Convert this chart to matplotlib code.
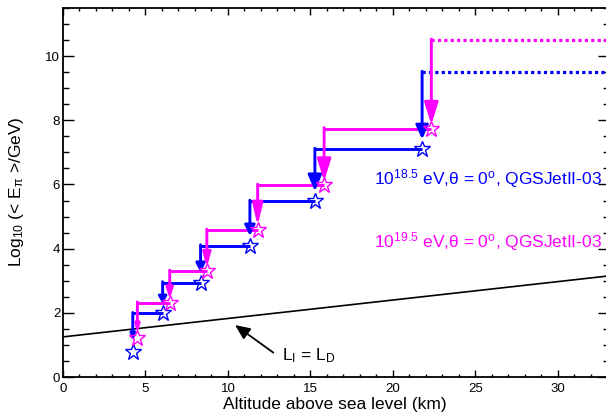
import numpy as np
import matplotlib
matplotlib.use("Agg")
import matplotlib.pyplot as plt
from matplotlib.ticker import MultipleLocator

plt.rcParams["font.family"] = ["Liberation Sans", "DejaVu Sans"]
plt.rcParams["mathtext.fontset"] = "custom"
plt.rcParams["mathtext.rm"] = "Liberation Sans"
plt.rcParams["mathtext.it"] = "Liberation Sans:italic"
plt.rcParams["mathtext.bf"] = "Liberation Sans:bold"

# ── data ─────────────────────────────────────────────────────────────────────
alt_185 = [4.23, 6.04, 8.34, 11.33, 15.27, 21.77]   # km
e_185   = [0.78, 1.98, 2.94, 4.09, 5.48, 7.10]      # log10(<E_pi>/GeV)
top_185 = 9.50

alt_195 = [4.51, 6.47, 8.72, 11.80, 15.83, 22.33]
e_195   = [1.22, 2.31, 3.30, 4.58, 5.98, 7.74]
top_195 = 10.50

lid_alt = [0.0, 35.0]        # L_I = L_D line
lid_val = [1.25, 3.26]

label_185 = r"10$^{18.5}$ eV,$\mathrm{θ}$ = 0$^{\mathrm{o}}$, QGSJetII-03"
label_195 = r"10$^{19.5}$ eV,$\mathrm{θ}$ = 0$^{\mathrm{o}}$, QGSJetII-03"

# ── styles ───────────────────────────────────────────────────────────────────
BLUE, MAG = "#0000ff", "#ff00ff"
XMAX, YMAX = 33.1, 11.5
# arrow head (full width px, length px) per step
HEAD_185 = [(5, 7), (8, 7), (9, 9), (10, 10), (13, 15), (12, 13)]
HEAD_195 = [(5, 8), (7, 10), (8, 13), (10, 20), (13, 20), (13, 20)]
TIP_OFF = {BLUE: 0.31, MAG: 0.12}
PX = 0.72  # px -> pt at dpi 100

fig = plt.figure(figsize=(6.06, 4.16), dpi=100)
ax = fig.add_axes([63 / 606, 39 / 416, 546 / 606, 369 / 416])


def draw_stairs(alt, e, top, color, heads):
    levels = list(e[1:]) + [top]
    n = len(alt)
    for i in range(n):
        # horizontal step
        if i < n - 1:
            ax.plot([alt[i], alt[i + 1]], [levels[i], levels[i]], color=color,
                    lw=2.1, solid_capstyle="butt", zorder=2)
        else:
            ax.plot([alt[i], XMAX + 1], [levels[i], levels[i]], color=color,
                    lw=2.3, ls=(0, (1, 1)), zorder=2)
        # vertical arrow down to the point
        w, l = heads[i]
        ax.annotate("", xy=(alt[i], e[i] + TIP_OFF[color]),
                    xytext=(alt[i], levels[i] + 0.03),
                    arrowprops=dict(arrowstyle=f"-|>,head_length={l * PX - 1:.2f},"
                                               f"head_width={w * PX / 2 - 0.5:.2f}",
                                    mutation_scale=1, color=color, lw=2.1,
                                    shrinkA=0, shrinkB=0),
                    zorder=3)
    ax.plot(alt, e, ls="none", marker="*", ms=12, mfc="none", mec=color,
            mew=1.0, zorder=4)


ax.plot(lid_alt, lid_val, color="black", lw=1.2, zorder=2)
draw_stairs(alt_185, e_185, top_185, BLUE, HEAD_185)
draw_stairs(alt_195, e_195, top_195, MAG, HEAD_195)

ax.annotate("", xy=(10.43, 1.62), xytext=(12.75, 0.76),
            arrowprops=dict(arrowstyle="-|>,head_length=9,head_width=4",
                            mutation_scale=1, color="black", lw=1.3,
                            shrinkA=0, shrinkB=0))
ax.text(13.25, 0.53, r"L$_{\mathrm{I}}$ = L$_{\mathrm{D}}$", fontsize=12.5,
        ha="left", va="baseline")

ax.text(32.69, 6.01, label_185, color=BLUE, fontsize=12.5, ha="right", va="baseline")
ax.text(32.69, 4.03, label_195, color=MAG, fontsize=12.5, ha="right", va="baseline")

ax.set_xlim(0, XMAX)
ax.set_ylim(0, YMAX)
ax.xaxis.set_major_locator(MultipleLocator(5))
ax.xaxis.set_minor_locator(MultipleLocator(1))
ax.yaxis.set_major_locator(MultipleLocator(2))
ax.yaxis.set_minor_locator(MultipleLocator(0.5))
ax.tick_params(which="both", direction="in", top=True, right=True, width=1.0,
               labelsize=9.5)
ax.xaxis.set_tick_params(which="major", length=5, pad=4)
ax.xaxis.set_tick_params(which="minor", length=2.5)
ax.yaxis.set_tick_params(which="major", length=8, pad=2)
ax.yaxis.set_tick_params(which="minor", length=4)
for s in ax.spines.values():
    s.set_linewidth(1.3)

fig.text(335 / 606, 1 - 405 / 416, "Altitude above sea level (km)", fontsize=12.5,
         ha="center", va="center")
fig.text(17 / 606, 1 - 191.5 / 416, r"Log$_{10}$ (< E$_{\mathrm{π}}$ >/GeV)",
         fontsize=12.5, rotation=90, ha="center", va="center")

fig.savefig("out.png", dpi=100)
